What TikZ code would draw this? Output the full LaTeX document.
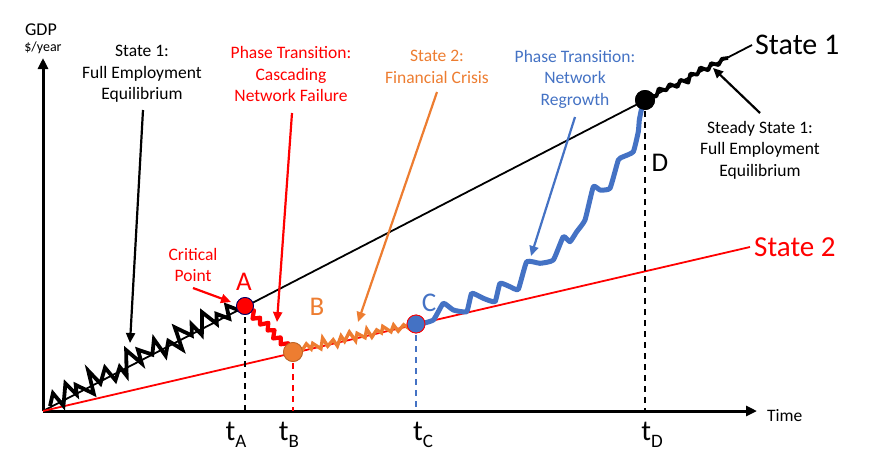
\documentclass[tikz,border=0pt]{standalone}
\usepackage{fontspec}
\setmainfont{Carlito}
\usetikzlibrary{arrows.meta,calc}
\definecolor{ored}{RGB}{255,0,0}
\definecolor{oorange}{RGB}{237,125,49}
\definecolor{oblue}{RGB}{68,114,196}
\begin{document}
\begin{tikzpicture}[x=1pt,y=-1pt,
  txt/.style={font=\fontsize{17.5}{21.5}\selectfont, align=center, inner sep=0pt},
  ann/.style={line width=2.2pt, -{Triangle[length=10pt,width=9pt]}},
  axisline/.style={line width=3pt, -{Triangle[length=11pt,width=10pt]}},
  dsh/.style={line width=1.8pt, dash pattern=on 6pt off 5pt},
  biglbl/.style={font=\fontsize{27}{27}\selectfont, inner sep=0pt},
  tlbl/.style={font=\fontsize{29}{29}\selectfont, inner sep=0pt, anchor=base},
  dot/.style={circle, inner sep=0pt, line width=0.8pt},
]
\useasboundingbox (0,0) rectangle (872,472);

% axes
\coordinate (O) at (43,411);
\coordinate (ytop) at (43,58);
\coordinate (xend) at (757,411);
\draw[axisline] (O) -- (ytop);
\draw[axisline] (O) -- (xend);
\node[font=\fontsize{18}{18}\selectfont, inner sep=0pt] (gdp) at (41,30) {GDP};
\node[font=\fontsize{14}{14}\selectfont, inner sep=0pt] (unit) at (43,48) {\$/year};
\node[txt, anchor=west] (time) at (767,416) {Time};

% state lines
\coordinate (S1end) at (752,45);
\coordinate (S2end) at (750,247);
\draw[line width=1.8pt] (O) -- (S1end);
\draw[ored, line width=1.8pt] (O) -- (S2end);
\node[font=\fontsize{30}{30}\selectfont, inner sep=0pt, anchor=west] (s1) at (755,45) {State 1};
\node[font=\fontsize{29}{29}\selectfont, inner sep=0pt, anchor=west, text=ored] (s2) at (754,247) {State 2};

% points
\node[dot, fill=ored, draw=blue!40!black, minimum size=17pt] (A) at (245,306) {};
\node[dot, fill=oorange, draw=oorange!80!black, minimum size=19pt] (B) at (293,352) {};
\node[dot, fill=oblue, draw=ored, minimum size=18pt] (C) at (416,324) {};
\node[dot, fill=black, minimum size=20pt] (D) at (645,100) {};
\coordinate (Dend) at (728,58);
\coordinate (Ostart) at (50,406);

% dashed drops
\draw[dsh] (A.center) -- (A.center |- O);
\draw[dsh, ored] (B.center) -- (B.center |- O);
\draw[dsh, oblue] (C.center) -- (C.center |- O);
\draw[dsh] (D.center) -- (D.center |- O);

% wiggly paths
\draw[line width=3.8pt, line join=miter, miter limit=8] (Ostart)
  \foreach \off/\jt [count=\i] in {-10/0.2,6/-0.3,-13/0.4,2/0.1,-7/-0.4,9/0.3,-14/0.1,3/-0.2,-9/0.4,7/-0.1,-3/0.3,8/-0.4,-15/0.2,4/0.3,-10/-0.3,1/0.2,-12/0.4,8/-0.2,-4/0.1,10/0.3,-13/-0.2,2/0.4,-8/0.1,6/-0.3,-14/0.2,3/0.3,-6/-0.1,4/0.2,-9/-0.3,2/0.1}
    { -- ($(Ostart)!{(\i+\jt)/31}!(A.center) + (0.46*\off,0.888*\off)$) } -- (A.center);
\draw[ored, line width=4.2pt, line join=round] (A.center)
  \foreach \off [count=\i] in {2,-3,4,-2,3,-4,2,-3,4,-2,3,-3,2}
    { -- ($(A.center)!{\i/14}!(B.center) + (-0.69*\off,0.72*\off)$) } -- (B.center);
\draw[oorange, line width=3.4pt, line join=miter, miter limit=8] (B.center)
  \foreach \off/\jt [count=\i] in {-3/0.2,2/-0.3,-5/0.3,1/0.1,-4/-0.3,3/0.2,-7/0.1,2/-0.2,-3/0.3,4/-0.1,-5/0.2,1/-0.3,-7/0.2,3/0.1,-4/-0.2,2/0.3,-6/0.1,3/-0.2,-3/0.2,1/0.1,-5/-0.3,2/0.2,-4/0.1,3/-0.2,-2/0.3,2/0.1,-3/-0.1}
    { -- ($(B.center)!{(\i+\jt)/28}!(C.center) + (0.229*\off,0.973*\off)$) } -- (C.center);
\draw[line width=3.8pt, line join=round] (D.center)
  \foreach \off [count=\i] in {-3,2,-4,1,-3,3,-2,4,-3,1,-4,2,-3,2,-2}
    { -- ($(D.center)!{\i/16}!(Dend) + (0.452*\off,0.892*\off)$) } -- (Dend);
\draw[oblue, line width=5pt, line join=round, line cap=round]
  plot[smooth, tension=0.25] coordinates {(416.7,325) (433.3,320) (443.3,303.3) (453.3,310) (466.7,311.7) (471.7,293.3) (483.3,298.3) (495,301.7) (500,283.3) (510,286.7) (518.3,289.3) (526.7,261.7) (540,263.3) (553.3,260) (563.3,236.7) (570,241.7) (576.7,231.7) (585,220) (593.3,186.7) (600,190) (610,188.3) (618.3,160) (623.3,156.7) (633.3,151.7) (638.3,131.7) (639.3,120) (641.7,108.3) (645,100)};

% redraw dots on top
\node[dot, fill=ored, draw=blue!40!black, minimum size=17pt] at (A) {};
\node[dot, fill=oorange, draw=oorange!80!black, minimum size=19pt] at (B) {};
\node[dot, fill=oblue, draw=ored, minimum size=18pt] at (C) {};
\node[dot, fill=black, minimum size=20pt] at (D) {};

% point letters
\node[biglbl, text=ored] (Alab) at (244,282) {A};
\node[biglbl, text=oorange] (Blab) at (317,307) {B};
\node[biglbl, text=oblue] (Clab) at (429,303) {C};
\node[biglbl] (Dlab) at (660,163) {D};

% time labels
\newcommand{\tsub}[1]{t\raisebox{-7pt}{\fontsize{19}{19}\selectfont #1}}
\node[tlbl] (tA) at (236,440) {\tsub{A}};
\node[tlbl] (tB) at (289,440) {\tsub{B}};
\node[tlbl] (tC) at (423,440) {\tsub{C}};
\node[tlbl] (tD) at (652,440) {\tsub{D}};

% annotations
\node[txt] (st1) at (142,74) {State 1:\\Full Employment\\Equilibrium};
\coordinate (st1a) at (143,110); \coordinate (st1b) at (130,343);
\draw[ann] (st1a) -- (st1b);

\node[txt, text=ored] (pt1) at (291,74) {Phase Transition:\\Cascading\\Network Failure};
\coordinate (pt1a) at (292,113); \coordinate (pt1b) at (277,322);
\draw[ann, ored] (pt1a) -- (pt1b);

\node[txt, text=oorange] (st2) at (437,67) {State 2:\\Financial Crisis};
\coordinate (st2a) at (437,92); \coordinate (st2b) at (358,322);
\draw[ann, oorange] (st2a) -- (st2b);

\node[txt, text=oblue] (pt2) at (575,79) {Phase Transition:\\Network\\Regrowth};
\coordinate (pt2a) at (575,117); \coordinate (pt2b) at (531,256);
\draw[ann, oblue] (pt2a) -- (pt2b);

\node[txt] (ss1) at (760,150) {Steady State 1:\\Full Employment\\Equilibrium};
\coordinate (ss1a) at (760,113); \coordinate (ss1b) at (713,68);
\draw[ann] (ss1a) -- (ss1b);

\node[txt, text=ored] (crit) at (193,265) {Critical\\Point};
\coordinate (crita) at (193,288); \coordinate (critb) at (231,302);
\draw[ann, ored] (crita) -- (critb);
\end{tikzpicture}
\end{document}
